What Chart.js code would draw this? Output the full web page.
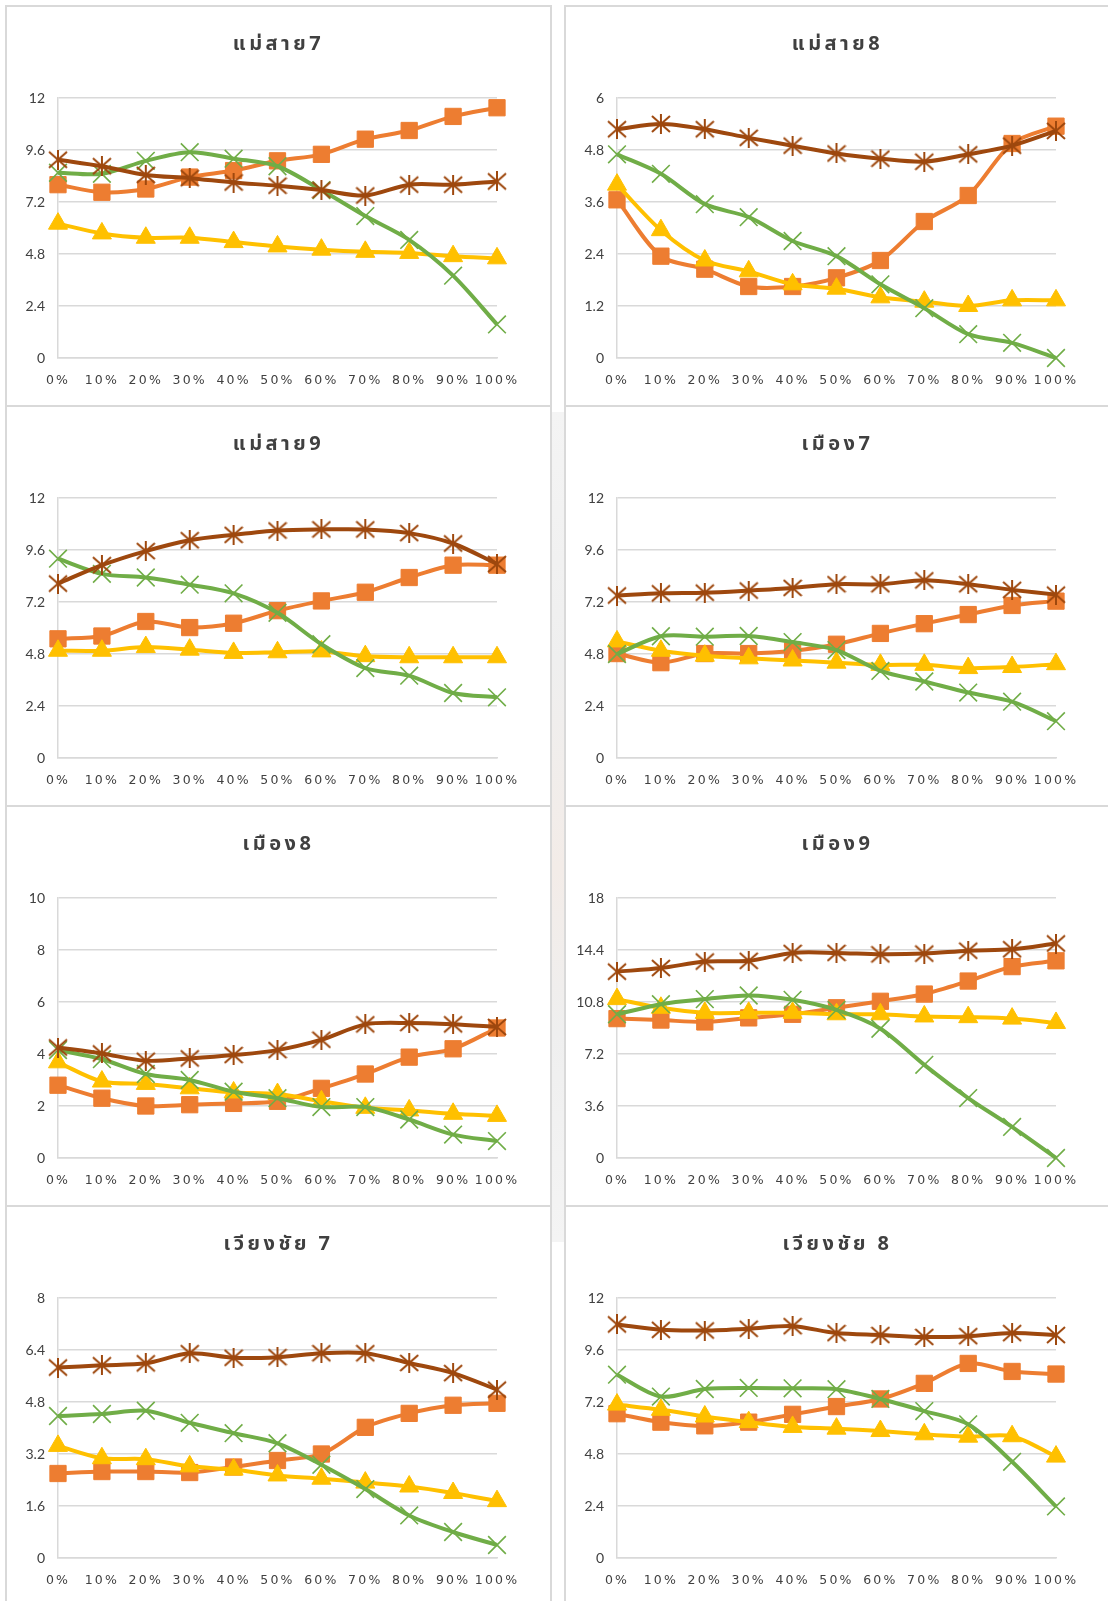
<!DOCTYPE html>
<html>
<head>
<meta charset="utf-8">
<script src="https://cdn.jsdelivr.net/npm/chart.js@4.4.1/dist/chart.umd.min.js"></script>
<style>
  html, body { margin: 0; padding: 0; background: #fff; }
  body { position: relative; width: 1108px; height: 1601px; overflow: hidden; }
  .gap { position: absolute; left: 552px; top: 412px; width: 13px; height: 830px;
         background: linear-gradient(#f4f4f4, #efefef 30%, #f3ece8 55%, #efefef 75%, #f4f4f4); }
  .panel { position: absolute; box-sizing: border-box; border: 2px solid #d9d9d9; background: #fff; height: 402px; }
  .panel canvas { position: absolute; left: 0; top: 0; }
</style>
</head>
<body>
<div class="gap"></div>
<script>
// x categories shared by every panel
const PCT = ['0%', '10%', '20%', '30%', '40%', '50%', '60%', '70%', '80%', '90%', '100%'];

// แม่สาย7
const MS7_SQ   = [8.0, 7.65, 7.8, 8.35, 8.65, 9.1, 9.4, 10.1, 10.5, 11.15, 11.55];
const MS7_TRI  = [6.2, 5.75, 5.55, 5.55, 5.35, 5.15, 5.0, 4.9, 4.85, 4.7, 4.6];
const MS7_X    = [8.55, 8.5, 9.1, 9.5, 9.2, 8.85, 7.75, 6.55, 5.45, 3.8, 1.55];
const MS7_STAR = [9.15, 8.85, 8.45, 8.3, 8.1, 7.95, 7.75, 7.5, 8.0, 8.0, 8.15];
const MS7_TICKS = [0, 2.4, 4.8, 7.2, 9.6, 12];

// แม่สาย8
const MS8_SQ   = [3.65, 2.35, 2.05, 1.65, 1.65, 1.85, 2.25, 3.15, 3.75, 4.95, 5.35];
const MS8_TRI  = [4.0, 2.95, 2.25, 2.0, 1.7, 1.6, 1.4, 1.3, 1.2, 1.33, 1.33];
const MS8_X    = [4.7, 4.25, 3.55, 3.25, 2.7, 2.35, 1.7, 1.15, 0.55, 0.35, 0];
const MS8_STAR = [5.28, 5.4, 5.28, 5.08, 4.9, 4.72, 4.6, 4.53, 4.7, 4.9, 5.24];
const MS8_TICKS = [0, 1.2, 2.4, 3.6, 4.8, 6];

// แม่สาย9
const MS9_SQ   = [5.5, 5.63, 6.3, 6.02, 6.22, 6.8, 7.25, 7.65, 8.33, 8.9, 8.9];
const MS9_TRI  = [4.95, 4.95, 5.12, 5.0, 4.85, 4.88, 4.92, 4.7, 4.65, 4.65, 4.65];
const MS9_X    = [9.2, 8.5, 8.33, 8.0, 7.6, 6.7, 5.25, 4.15, 3.8, 3.0, 2.8];
const MS9_STAR = [8.05, 8.9, 9.55, 10.05, 10.3, 10.5, 10.55, 10.55, 10.38, 9.9, 8.95];
const MS9_TICKS = [0, 2.4, 4.8, 7.2, 9.6, 12];

// เมือง7
const MU7_SQ   = [4.82, 4.4, 4.82, 4.82, 4.95, 5.25, 5.75, 6.2, 6.62, 7.04, 7.24];
const MU7_TRI  = [5.38, 4.95, 4.72, 4.6, 4.5, 4.4, 4.3, 4.3, 4.15, 4.2, 4.33];
const MU7_X    = [4.8, 5.62, 5.6, 5.63, 5.35, 4.98, 4.02, 3.53, 3.02, 2.6, 1.7];
const MU7_STAR = [7.5, 7.6, 7.63, 7.73, 7.85, 8.02, 8.02, 8.2, 8.02, 7.76, 7.54];
const MU7_TICKS = [0, 2.4, 4.8, 7.2, 9.6, 12];

// เมือง8
const MU8_SQ   = [2.8, 2.3, 2.0, 2.05, 2.1, 2.18, 2.68, 3.23, 3.88, 4.2, 5.0];
const MU8_TRI  = [3.68, 2.94, 2.85, 2.68, 2.52, 2.46, 2.18, 1.93, 1.83, 1.7, 1.62];
const MU8_X    = [4.15, 3.8, 3.23, 3.0, 2.55, 2.3, 1.96, 1.96, 1.48, 0.9, 0.65];
const MU8_STAR = [4.25, 4.02, 3.74, 3.83, 3.96, 4.15, 4.55, 5.14, 5.19, 5.14, 5.04];
const MU8_TICKS = [0, 2, 4, 6, 8, 10];

// เมือง9
const MU9_SQ   = [9.65, 9.55, 9.42, 9.7, 9.95, 10.4, 10.85, 11.35, 12.25, 13.25, 13.65];
const MU9_TRI  = [11.0, 10.4, 10.05, 10.05, 10.05, 9.95, 9.95, 9.8, 9.75, 9.65, 9.35];
const MU9_X    = [9.95, 10.65, 11.0, 11.25, 10.95, 10.25, 8.95, 6.45, 4.15, 2.15, 0];
const MU9_STAR = [12.9, 13.15, 13.6, 13.65, 14.2, 14.2, 14.1, 14.15, 14.35, 14.45, 14.85];
const MU9_TICKS = [0, 3.6, 7.2, 10.8, 14.4, 18];

// เวียงชัย 7
const WC7_SQ   = [2.6, 2.66, 2.66, 2.63, 2.8, 3.0, 3.2, 4.02, 4.45, 4.7, 4.76];
const WC7_TRI  = [3.45, 3.07, 3.04, 2.82, 2.72, 2.54, 2.44, 2.32, 2.2, 2.0, 1.75];
const WC7_X    = [4.37, 4.43, 4.53, 4.16, 3.84, 3.53, 2.87, 2.12, 1.31, 0.8, 0.4];
const WC7_STAR = [5.86, 5.93, 5.99, 6.3, 6.16, 6.18, 6.3, 6.3, 6.0, 5.69, 5.18];
const WC7_TICKS = [0, 1.6, 3.2, 4.8, 6.4, 8];

// เวียงชัย 8
const WC8_SQ   = [6.66, 6.27, 6.1, 6.27, 6.63, 6.99, 7.34, 8.06, 8.98, 8.61, 8.49];
const WC8_TRI  = [7.08, 6.84, 6.53, 6.27, 6.05, 5.97, 5.86, 5.71, 5.6, 5.62, 4.68];
const WC8_X    = [8.46, 7.45, 7.8, 7.85, 7.83, 7.79, 7.34, 6.78, 6.17, 4.44, 2.38];
const WC8_STAR = [10.78, 10.53, 10.5, 10.58, 10.7, 10.38, 10.29, 10.2, 10.24, 10.38, 10.29];
const WC8_TICKS = [0, 2.4, 4.8, 7.2, 9.6, 12];

const PANELS = [
  { title: 'แม่สาย7',     sq: MS7_SQ, tri: MS7_TRI, x: MS7_X, star: MS7_STAR, ticks: MS7_TICKS },
  { title: 'แม่สาย8',     sq: MS8_SQ, tri: MS8_TRI, x: MS8_X, star: MS8_STAR, ticks: MS8_TICKS },
  { title: 'แม่สาย9',     sq: MS9_SQ, tri: MS9_TRI, x: MS9_X, star: MS9_STAR, ticks: MS9_TICKS },
  { title: 'เมือง7',      sq: MU7_SQ, tri: MU7_TRI, x: MU7_X, star: MU7_STAR, ticks: MU7_TICKS },
  { title: 'เมือง8',      sq: MU8_SQ, tri: MU8_TRI, x: MU8_X, star: MU8_STAR, ticks: MU8_TICKS },
  { title: 'เมือง9',      sq: MU9_SQ, tri: MU9_TRI, x: MU9_X, star: MU9_STAR, ticks: MU9_TICKS },
  { title: 'เวียงชัย 7',  sq: WC7_SQ, tri: WC7_TRI, x: WC7_X, star: WC7_STAR, ticks: WC7_TICKS },
  { title: 'เวียงชัย 8',  sq: WC8_SQ, tri: WC8_TRI, x: WC8_X, star: WC8_STAR, ticks: WC8_TICKS }
];

const ORANGE = '#ED7D31', GOLD = '#FFC000', GREEN = '#70AD47', BROWN = '#9E480E';
const TEXT = '#404040';
const THAI_FONT = '"Noto Sans Thai", "Noto Sans Thai UI", "Leelawadee UI", Tahoma, "Noto Sans", sans-serif';

// six-armed asterisk marker (an X with a vertical stroke)
function asteriskMarker(color) {
  const c = document.createElement('canvas');
  c.width = 20; c.height = 20;
  const g = c.getContext('2d');
  g.strokeStyle = color; g.lineWidth = 2; g.lineCap = 'butt';
  g.beginPath();
  g.moveTo(1, 2); g.lineTo(19, 18);
  g.moveTo(19, 2); g.lineTo(1, 18);
  g.moveTo(10, 0); g.lineTo(10, 20);
  g.stroke();
  return c;
}
const STAR_IMG = asteriskMarker(BROWN);

// letter spacing for the category labels and the title
const spacedText = {
  id: 'spacedText',
  beforeDraw(chart, args, opts) {
    const wrap = (obj, method, spacing) => {
      if (!obj || obj['_spaced_' + method]) return;
      const orig = obj[method];
      obj[method] = function (...a) {
        const ctx = chart.ctx;
        ctx.save();
        ctx.letterSpacing = spacing;
        orig.apply(this, a);
        ctx.restore();
      };
      obj['_spaced_' + method] = true;
    };
    wrap(chart.scales.x, 'drawLabels', opts.ticks);
    wrap(chart.titleBlock, 'draw', opts.title);
  }
};

const CANVAS_W = 543, CANVAS_H = 398;

PANELS.forEach((p, i) => {
  const col = i % 2, row = Math.floor(i / 2);
  const div = document.createElement('div');
  div.className = 'panel';
  div.style.left = (col === 0 ? 5 : 564) + 'px';
  div.style.width = (col === 0 ? 547 : 560) + 'px';
  div.style.top = (5 + row * 400) + 'px';
  const cv = document.createElement('canvas');
  cv.width = CANVAS_W; cv.height = CANVAS_H;
  div.appendChild(cv);
  document.body.appendChild(div);

  const common = { tension: 0.3, borderWidth: 4, fill: false, clip: false };
  new Chart(cv, {
    type: 'line',
    data: {
      labels: PCT,
      datasets: [
        { ...common, label: 'star', data: p.star, borderColor: BROWN, backgroundColor: BROWN,
          pointStyle: STAR_IMG, pointRadius: 10 },
        { ...common, label: 'cross', data: p.x, borderColor: GREEN, backgroundColor: GREEN,
          pointStyle: 'crossRot', pointRadius: 12.5, pointBorderWidth: 1.6, pointBorderColor: GREEN },
        { ...common, label: 'triangle', data: p.tri, borderColor: GOLD, backgroundColor: GOLD,
          pointStyle: 'triangle', pointRadius: 11, pointBorderWidth: 1, pointBorderColor: GOLD },
        { ...common, label: 'square', data: p.sq, borderColor: ORANGE, backgroundColor: ORANGE,
          pointStyle: 'rect', pointRadius: 11.5, pointBorderWidth: 1, pointBorderColor: ORANGE }
      ]
    },
    options: {
      responsive: false,
      animation: false,
      devicePixelRatio: 1,
      layout: { padding: 0 },
      plugins: {
        legend: { display: false },
        tooltip: { enabled: false },
        title: {
          display: true, text: p.title, color: TEXT,
          font: { family: THAI_FONT, size: 20, weight: 'bold', lineHeight: 1.2 },
          padding: { top: 27, bottom: 40 }
        },
        spacedText: { ticks: '2.2px', title: '3.5px' }
      },
      scales: {
        x: {
          offset: false,
          grid: { display: false },
          border: { display: true, color: '#d9d9d9', width: 1.5 },
          ticks: { color: TEXT, font: { family: '"DejaVu Sans"', size: 12.5 }, padding: 7,
                   maxRotation: 0, autoSkip: false },
          afterFit(s) { s.paddingLeft = 0; s.paddingRight = 53; s.height = 47; }
        },
        y: {
          min: p.ticks[0], max: p.ticks[p.ticks.length - 1],
          grid: { color: '#d9d9d9', lineWidth: 1.5, drawTicks: false },
          border: { display: true, color: '#d9d9d9', width: 1.5 },
          ticks: { color: TEXT, font: { family: 'Lato', size: 14 }, padding: 13,
                   callback: v => String(v) },
          afterBuildTicks(s) { s.ticks = p.ticks.map(v => ({ value: v })); },
          afterFit(s) { s.width = 51; }
        }
      }
    },
    plugins: [spacedText]
  });
});
</script>
</body>
</html>
